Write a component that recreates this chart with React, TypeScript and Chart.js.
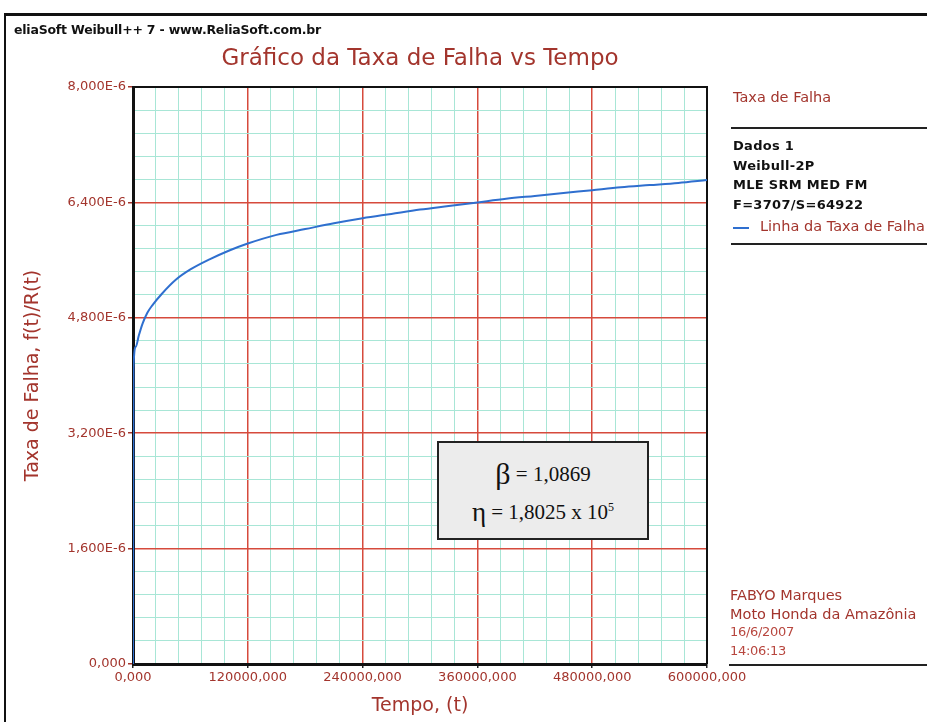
import React, { useEffect, useRef } from "react";
import { Chart, registerables } from "chart.js";

Chart.register(...registerables);

// Tempo (t) and hazard rate f(t)/R(t) (rate in units of 1E-6)
const tempo = [0, 500, 3000, 6000, 10000, 15000, 20000, 30000, 45000, 60000, 80000, 100000, 120000, 150000, 180000, 210000, 240000, 270000, 300000, 330000, 360000, 390000, 420000, 450000, 480000, 510000, 540000, 570000, 600000];
const taxaFalha = [0, 4.1, 4.4, 4.55, 4.72, 4.87, 4.97, 5.13, 5.33, 5.47, 5.61, 5.73, 5.83, 5.95, 6.03, 6.11, 6.18, 6.24, 6.3, 6.35, 6.4, 6.45, 6.49, 6.53, 6.57, 6.61, 6.64, 6.67, 6.71];

const xMax = 600000;
const xStep = 24000;
const yMax = 8;
const yStep = 0.32;
const majorEvery = 5;

const chartTitle = "Gráfico da Taxa de Falha vs Tempo";
const yTitle = "Taxa de Falha, f(t)/R(t)";
const xTitle = "Tempo, (t)";
const headerText = "eliaSoft Weibull++ 7 - www.ReliaSoft.com.br";
const legendTitle = "Taxa de Falha";
const legendInfo = ["Dados 1", "Weibull-2P", "MLE SRM MED FM", "F=3707/S=64922"];
const seriesName = "Linha da Taxa de Falha";
const footerLines = ["FABYO Marques", "Moto Honda da Amazônia", "16/6/2007", "14:06:13"];

const DARK_RED = "#a3352d";
const GRID_RED = "#d64a3c";
const GRID_CYAN = "#a8e6d6";
const LINE_BLUE = "#2f6fcf";

const fmt = (v: number) => v.toFixed(3).replace(".", ",");

export default function App() {
  const ref = useRef<HTMLCanvasElement | null>(null);

  useEffect(() => {
    if (!ref.current) return;
    const framePlugin = {
      id: "frame",
      beforeDatasetsDraw(chart: any) {
        const { ctx, chartArea } = chart;
        ctx.save();
        ctx.strokeStyle = "#111";
        ctx.lineWidth = 2;
        ctx.beginPath();
        ctx.moveTo(chartArea.left, chartArea.top);
        ctx.lineTo(chartArea.right, chartArea.top);
        ctx.lineTo(chartArea.right, chartArea.bottom);
        ctx.stroke();
        ctx.restore();
      },
    };
    const chart = new Chart(ref.current, {
      type: "line",
      data: {
        datasets: [
          {
            label: seriesName,
            data: tempo.map((t, i) => ({ x: t, y: taxaFalha[i] })),
            borderColor: LINE_BLUE,
            borderWidth: 2,
            pointRadius: 0,
            cubicInterpolationMode: "monotone",
            fill: false,
          },
        ],
      },
      options: {
        responsive: false,
        animation: false,
        layout: { padding: { left: 0, right: 220, top: 0, bottom: 0 } },
        plugins: {
          legend: { display: false },
          tooltip: { enabled: false },
          title: {
            display: true,
            text: chartTitle,
            fullSize: false,
            color: DARK_RED,
            font: { family: "DejaVu Sans", size: 23, weight: "normal" },
            padding: { top: 45, bottom: 14.4 },
          },
        },
        scales: {
          x: {
            type: "linear",
            min: 0,
            max: xMax,
            afterFit: (s: any) => { s.height = 58; },
            ticks: {
              stepSize: xStep,
              autoSkip: false,
              maxRotation: 0,
              color: DARK_RED,
              font: { family: "DejaVu Sans", size: 13 },
              padding: 2,
              callback: (v: any, i: number) => (i % majorEvery === 0 ? fmt(Number(v)) : ""),
            },
            grid: {
              color: (c: any) => (c.index % majorEvery === 0 ? GRID_RED : GRID_CYAN),
              lineWidth: (c: any) => (c.index % majorEvery === 0 ? 1.5 : 1),
              tickColor: (c: any) => (c.index % majorEvery === 0 ? "#222" : "transparent"),
              tickLength: 4,
            },
            border: { color: "#111", width: 3 },
            title: {
              display: true,
              text: xTitle,
              color: DARK_RED,
              font: { family: "DejaVu Sans", size: 19 },
              padding: { top: 0, bottom: 5 },
            },
          },
          y: {
            type: "linear",
            min: 0,
            max: yMax,
            afterFit: (s: any) => { s.width = 133; },
            ticks: {
              stepSize: yStep,
              autoSkip: false,
              color: DARK_RED,
              font: { family: "DejaVu Sans", size: 13 },
              padding: 2,
              callback: (v: any, i: number) =>
                i % majorEvery === 0 ? (Number(v) === 0 ? "0,000" : fmt(Number(v)) + "E-6") : "",
            },
            grid: {
              color: (c: any) => (c.index % majorEvery === 0 ? GRID_RED : GRID_CYAN),
              lineWidth: (c: any) => (c.index % majorEvery === 0 ? 1.5 : 1),
              tickColor: (c: any) => (c.index % majorEvery === 0 ? DARK_RED : "transparent"),
              tickLength: 5,
            },
            border: { color: "#111", width: 3 },
            title: {
              display: true,
              text: yTitle,
              color: DARK_RED,
              font: { family: "DejaVu Sans", size: 19 },
              padding: { top: 22, bottom: 0 },
            },
          },
        },
      },
      plugins: [framePlugin],
    } as any);
    return () => chart.destroy();
  }, []);

  const abs = (extra: React.CSSProperties): React.CSSProperties => ({ position: "absolute", whiteSpace: "nowrap", ...extra });
  const sans = "'DejaVu Sans', Verdana, sans-serif";

  return (
    <div style={{ position: "fixed", left: 0, top: 0, width: 927, height: 722, background: "#fff", overflow: "hidden" }}>
      <canvas ref={ref} width={927} height={722} style={{ position: "absolute", left: 0, top: 0, width: 927, height: 722 }} />
      {/* outer frame */}
      <div style={abs({ left: 4, top: 13, width: 923, height: 3, background: "#111" })} />
      <div style={abs({ left: 4, top: 13, width: 2, height: 709, background: "#111" })} />
      <div style={abs({ left: 14, top: 22, font: `bold 12.5px ${sans}`, color: "#111", letterSpacing: "-0.2px" })}>{headerText}</div>

      {/* legend */}
      <div style={abs({ left: 733, top: 89, font: `14.5px ${sans}`, color: DARK_RED })}>{legendTitle}</div>
      <div style={abs({ left: 731, top: 127, width: 196, height: 2, background: "#222" })} />
      {legendInfo.map((t, i) => (
        <div key={t} style={abs({ left: 733, top: 138 + i * 19.5, font: `bold 13px ${sans}`, color: "#111", letterSpacing: "0.3px" })}>{t}</div>
      ))}
      <div style={abs({ left: 733, top: 227, width: 16, height: 2, background: LINE_BLUE })} />
      <div style={abs({ left: 760, top: 218, font: `14.5px ${sans}`, color: DARK_RED })}>{seriesName}</div>
      <div style={abs({ left: 731, top: 243, width: 196, height: 2, background: "#222" })} />

      {/* footer */}
      {footerLines.map((t, i) => (
        <div
          key={t}
          style={abs({
            left: 730,
            top: 587 + i * 18.5,
            font: `${i < 2 ? 14.5 : 13}px ${sans}`,
            color: i < 2 ? DARK_RED : "#b8473f",
            letterSpacing: i < 2 ? "0px" : "-0.3px",
          })}
        >
          {t}
        </div>
      ))}
      <div style={abs({ left: 729, top: 664, width: 198, height: 2, background: "#222" })} />

      {/* parameter box */}
      <div
        style={abs({
          left: 437,
          top: 441,
          width: 208,
          height: 95,
          background: "#ececec",
          border: "2px solid #222",
          fontFamily: "'Liberation Serif', 'Times New Roman', serif",
          color: "#111",
          textAlign: "center",
        })}
      >
        <div style={{ position: "absolute", left: 0, right: 0, top: 14, fontSize: 21 }}>
          <span style={{ fontSize: 30, verticalAlign: "-3px" }}>β</span> = 1,0869
        </div>
        <div style={{ position: "absolute", left: 0, right: 0, top: 54, fontSize: 21 }}>
          <span style={{ fontSize: 27, verticalAlign: "-2px" }}>η</span> = 1,8025 x 10<sup style={{ fontSize: 12 }}>5</sup>
        </div>
      </div>
    </div>
  );
}
